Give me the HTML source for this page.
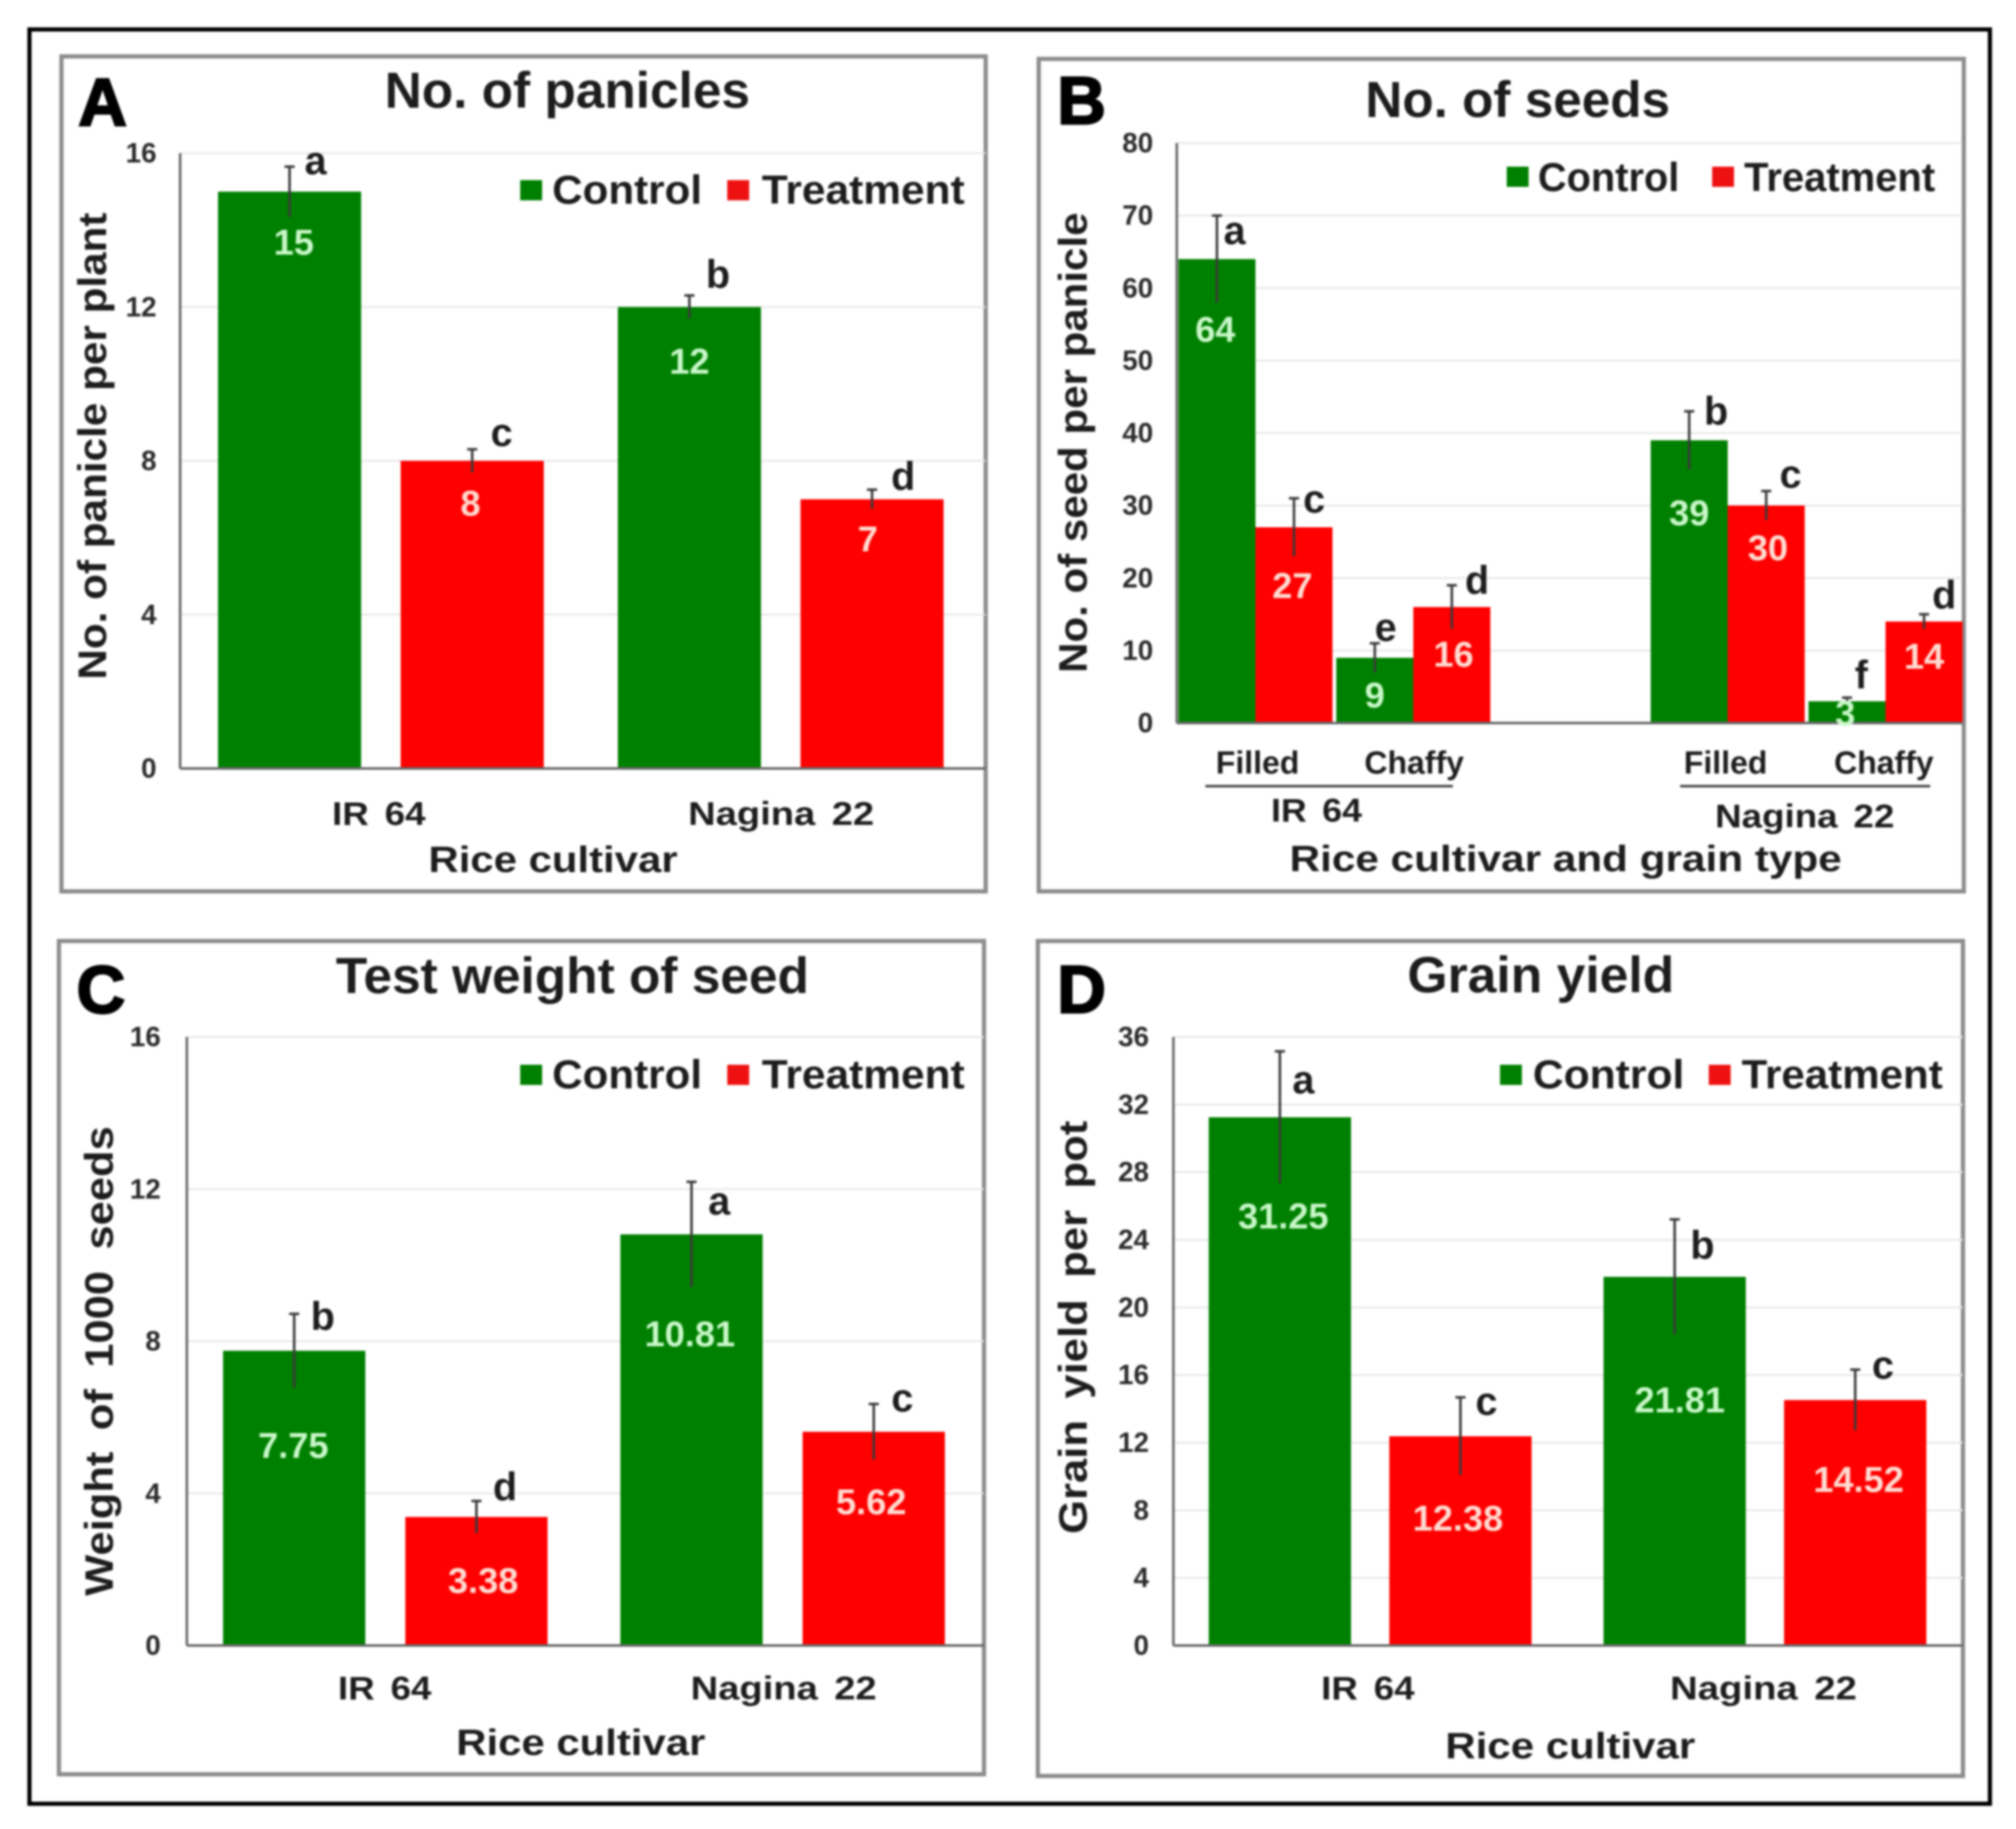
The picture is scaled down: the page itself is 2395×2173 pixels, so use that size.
<!DOCTYPE html>
<html lang="en">
<head>
<meta charset="utf-8">
<title>Rice cultivar yield panels</title>
<style>
html,body{margin:0;padding:0;background:#fff;}
svg{display:block;filter:blur(1.4px);font-family:"Liberation Sans",Arial,sans-serif;}
text{fill:#1c1c1c;font-weight:bold;}
.title{font-size:60px;}
.plabel{font-size:80px;stroke:#000;stroke-width:2.5px;fill:#000;}
.ytitle{font-size:47px;}
.xtitle{font-size:44px;}
.leg{font-size:48px;}
.cat{font-size:39px;word-spacing:6px;}
.sub{font-size:38px;}
.tick{font-size:33px;fill:#2a2a2a;}
.letter{font-size:47px;}
.val{font-size:43px;}
.frame{fill:none;stroke:#8c8c8c;stroke-width:5;}
</style>
</head>
<body>
<svg id="figure" xmlns="http://www.w3.org/2000/svg" width="2395" height="2173" viewBox="0 0 2395 2173">
  <rect x="0" y="0" width="2395" height="2173" fill="#fff"/>
  <rect x="35" y="35" width="2329" height="2108" fill="none" stroke="#000" stroke-width="5"/>

  <g id="panelA">
    <rect class="frame" x="73" y="67" width="1098" height="992"/>
    <text class="plabel" x="93" y="149">A</text>
    <text class="title" x="457" y="128" textLength="434" lengthAdjust="spacingAndGlyphs">No. of panicles</text>
    <text class="ytitle" transform="translate(126 530) rotate(-90)" text-anchor="middle" textLength="555" lengthAdjust="spacingAndGlyphs">No. of panicle per plant</text>
    <text class="xtitle" x="509" y="1036" textLength="296" lengthAdjust="spacingAndGlyphs">Rice cultivar</text>
  </g>

  <g id="panelB">
    <rect class="frame" x="1234" y="70" width="1099" height="989"/>
    <text class="plabel" x="1256" y="147">B</text>
    <text class="title" x="1622" y="139" textLength="362" lengthAdjust="spacingAndGlyphs">No. of seeds</text>
    <text class="ytitle" transform="translate(1291 526) rotate(-90)" text-anchor="middle" textLength="547" lengthAdjust="spacingAndGlyphs">No. of seed per panicle</text>
    <text class="xtitle" x="1532" y="1035" textLength="656" lengthAdjust="spacingAndGlyphs">Rice cultivar and grain type</text>
    <line x1="1432" y1="934" x2="1726" y2="934" stroke="#444" stroke-width="3"/>
    <line x1="1996" y1="934" x2="2293" y2="934" stroke="#444" stroke-width="3"/>
  </g>

  <g id="panelC">
    <rect class="frame" x="70" y="1118" width="1099" height="990"/>
    <text class="plabel" x="91" y="1203">C</text>
    <text class="title" x="399" y="1180" textLength="562" lengthAdjust="spacingAndGlyphs">Test weight of seed</text>
    <text class="ytitle" style="word-spacing:10px" transform="translate(134 1617) rotate(-90)" text-anchor="middle" textLength="558" lengthAdjust="spacingAndGlyphs">Weight of 1000 seeds</text>
    <text class="xtitle" x="542" y="2085" textLength="296" lengthAdjust="spacingAndGlyphs">Rice cultivar</text>
  </g>

  <g id="panelD">
    <rect class="frame" x="1233" y="1118" width="1099" height="992"/>
    <text class="plabel" x="1256" y="1203">D</text>
    <text class="title" x="1672" y="1179" textLength="317" lengthAdjust="spacingAndGlyphs">Grain yield</text>
    <text class="ytitle" style="word-spacing:10px" transform="translate(1291 1577) rotate(-90)" text-anchor="middle" textLength="491" lengthAdjust="spacingAndGlyphs">Grain yield per pot</text>
    <text class="xtitle" x="1717" y="2089" textLength="297" lengthAdjust="spacingAndGlyphs">Rice cultivar</text>
  </g>
</svg>

<script>
// ---------- Chart data ----------
const aCategories = ["IR 64", "Nagina 22"];
const aTicks = [0, 4, 8, 12, 16];
const aControl = [15, 12];
const aTreatment = [8, 7];
const aControlErr = [0.65, 0.3];
const aTreatmentErr = [0.3, 0.25];
const aControlLetters = ["a", "b"];
const aTreatmentLetters = ["c", "d"];

const bCategories = ["IR 64", "Nagina 22"];
const bGrainTypes = ["Filled", "Chaffy"];
const bTicks = [0, 10, 20, 30, 40, 50, 60, 70, 80];
const bControl = [64, 9, 39, 3];
const bTreatment = [27, 16, 30, 14];
const bControlErr = [6, 2, 4, 0.5];
const bTreatmentErr = [4, 3, 2, 1];
const bControlLetters = ["a", "e", "b", "f"];
const bTreatmentLetters = ["c", "d", "c", "d"];

const cCategories = ["IR 64", "Nagina 22"];
const cTicks = [0, 4, 8, 12, 16];
const cControl = [7.75, 10.81];
const cTreatment = [3.38, 5.62];
const cControlErr = [0.97, 1.38];
const cTreatmentErr = [0.42, 0.73];
const cControlLetters = ["b", "a"];
const cTreatmentLetters = ["d", "c"];

const dCategories = ["IR 64", "Nagina 22"];
const dTicks = [0, 4, 8, 12, 16, 20, 24, 28, 32, 36];
const dControl = [31.25, 21.81];
const dTreatment = [12.38, 14.52];
const dControlErr = [3.9, 3.4];
const dTreatmentErr = [2.3, 1.8];
const dControlLetters = ["a", "b"];
const dTreatmentLetters = ["c", "c"];

const seriesNames = ["Control", "Treatment"];

// ---------- Panel geometry (axis frames, not data) ----------
const aFrame = {id:"panelA", prefix:"panel-a", axisX:214, axisRight:1171, y0:913, yTop:182, barLeft:259, groupStep:475, subStep:0, subCount:1, seriesStep:217, barW:170, tickRight:186, decimals:0,
  catX:[450,928], catY:[980,980], catW:[111,221],
  letterNudge:[[31,-3],[35,-16],[34,-26],[37,-17]], valueNudge:[[5,60],[-2,50],[0,64],[-5,47]],
  legend:{a:618, at:656, aw:178, b:864, bt:905, bw:241, cy:226, base:242}};
const bFrame = {id:"panelB", prefix:"panel-b", axisX:1398, axisRight:2331, y0:859, yTop:170, barLeft:1400, groupStep:561, subStep:187.5, subCount:2, seriesStep:91.5, barW:91.5, tickRight:1370, decimals:0,
  catX:[1564,2144], catY:[976,983], catW:[108,213], subX:[1494,1680,2050,2238],
  letterNudge:[[21,22],[24,5],[13,-15],[30,-7],[32,-1],[29,-16],[17,-28],[24,-24]],
  valueNudge:[[-2,83],[-2,69],[0,44],[2,56],[0,86],[2,50],[-2,14],[0,41]],
  legend:{a:1790, at:1827, aw:168, b:2034, bt:2072, bw:227, cy:210, base:227}};
const cFrame = {id:"panelC", prefix:"panel-c", axisX:222, axisRight:1169, y0:1955, yTop:1232, barLeft:265, groupStep:472, subStep:0, subCount:1, seriesStep:216.5, barW:169, tickRight:191, decimals:2,
  catX:[457,931], catY:[2019,2019], catW:[111,221],
  letterNudge:[[34,2],[34,-18],[33,27],[34,-3]], valueNudge:[[-1,112],[8,75],[-2,118],[-3,83]],
  legend:{a:618, at:656, aw:178, b:864, bt:905, bw:241, cy:1277, base:1293}};
const dFrame = {id:"panelD", prefix:"panel-d", axisX:1394, axisRight:2332, y0:1955, yTop:1232, barLeft:1436, groupStep:469, subStep:0, subCount:1, seriesStep:214.5, barW:169, tickRight:1365, decimals:2,
  catX:[1625,2095], catY:[2019,2019], catW:[111,222],
  letterNudge:[[28,38],[31,9],[33,30],[33,-1]], valueNudge:[[4,117],[-3,97],[6,146],[4,94]],
  legend:{a:1782, at:1821, aw:180, b:2030, bt:2069, bw:239, cy:1277, base:1293}};

const SVGNS = "http://www.w3.org/2000/svg";
const seriesColors = ["#008000", "#ff0000"];
const valueColors = ["#c9f7c9", "#ffdcd2"];

function make(parent, tag, attrs, content) {
  const el = document.createElementNS(SVGNS, tag);
  for (const k in attrs) el.setAttribute(k, attrs[k]);
  if (content !== undefined) el.textContent = content;
  parent.appendChild(el);
  return el;
}

function drawPanel(frame, ticks, categories, control, treatment, controlErr, treatmentErr, controlLetters, treatmentLetters, subLabels) {
  const g = document.getElementById(frame.id);
  const yMax = ticks[ticks.length - 1];
  const yScale = v => frame.y0 - (v / yMax) * (frame.y0 - frame.yTop);
  const xScale = (cluster, series) => {
    const group = Math.floor(cluster / frame.subCount);
    const sub = cluster % frame.subCount;
    return frame.barLeft + group * frame.groupStep + sub * frame.subStep + series * frame.seriesStep;
  };

  ticks.forEach(t => {
    if (t > 0) {
      const grid = make(g, "line", {x1:frame.axisX, x2:frame.axisRight, y1:yScale(t), y2:yScale(t), stroke:"#e6e6e6", "stroke-width":2});
      
      
    }
    const label = make(g, "text", {class:"tick", x:frame.tickRight, y:yScale(t) + 11, "text-anchor":"end"}, String(t));
    
    
  });

  const yAxis = make(g, "line", {x1:frame.axisX, x2:frame.axisX, y1:frame.yTop, y2:frame.y0, stroke:"#666", "stroke-width":3});
  
  

  const seriesValues = [control, treatment];
  const seriesErrs = [controlErr, treatmentErr];
  const seriesLetters = [controlLetters, treatmentLetters];
  const overlay = [];
  control.forEach((_, c) => {
    [0, 1].forEach(s => {
      const v = seriesValues[s][c];
      const e = seriesErrs[s][c];
      const x = xScale(c, s);
      const top = yScale(v);
      const bar = make(g, "rect", {x:x, y:top, width:frame.barW, height:frame.y0 - top, fill:seriesColors[s]});
      
      
      overlay.push({c, s, v, e, cx:x + frame.barW / 2, top, letter:seriesLetters[s][c]});
    });
  });

  const xAxis = make(g, "line", {x1:frame.axisX, x2:frame.axisRight, y1:frame.y0, y2:frame.y0, stroke:"#666", "stroke-width":3});
  
  

  overlay.forEach((m, i) => {
    const errTop = yScale(m.v + m.e);
    const stem = make(g, "line", {x1:m.cx, x2:m.cx, y1:errTop, y2:yScale(m.v - m.e), stroke:"#3a3a3a", "stroke-width":3});
    
    
    const cap = make(g, "line", {x1:m.cx - 6, x2:m.cx + 6, y1:errTop, y2:errTop, stroke:"#3a3a3a", "stroke-width":3});
    
    

    const ln = frame.letterNudge[i];
    const halfGlyph = "bdf".indexOf(m.letter) >= 0 ? 17 : 12;
    const letter = make(g, "text", {class:"letter", x:m.cx + ln[0], y:errTop + ln[1] + halfGlyph, "text-anchor":"middle"}, m.letter);
    
    

    const vn = frame.valueNudge[i];
    const value = make(g, "text", {class:"val", x:m.cx + vn[0], y:m.top + vn[1] + 15, "text-anchor":"middle", style:"fill:" + valueColors[m.s]}, m.v.toFixed(frame.decimals));
    
    
  });

  categories.forEach((name, i) => {
    const cat = make(g, "text", {class:"cat", x:frame.catX[i], y:frame.catY[i], "text-anchor":"middle", textLength:frame.catW[i], lengthAdjust:"spacingAndGlyphs"}, name);
    
    
  });

  if (subLabels) {
    frame.subX.forEach((sx, i) => {
      const sub = make(g, "text", {class:"sub", x:sx, y:919, "text-anchor":"middle"}, subLabels[i % subLabels.length]);
      
      
    });
  }

  const L = frame.legend;
  const swatchA = make(g, "rect", {x:L.a, y:L.cy - 12, width:26, height:24, fill:seriesColors[0]});
  
  
  const textA = make(g, "text", {class:"leg", x:L.at, y:L.base, textLength:L.aw, lengthAdjust:"spacingAndGlyphs"}, seriesNames[0]);
  
  
  const swatchB = make(g, "rect", {x:L.b, y:L.cy - 12, width:26, height:24, fill:"#ee1111"});
  
  
  const textB = make(g, "text", {class:"leg", x:L.bt, y:L.base, textLength:L.bw, lengthAdjust:"spacingAndGlyphs"}, seriesNames[1]);
  
  
}

drawPanel(aFrame, aTicks, aCategories, aControl, aTreatment, aControlErr, aTreatmentErr, aControlLetters, aTreatmentLetters, null);
drawPanel(bFrame, bTicks, bCategories, bControl, bTreatment, bControlErr, bTreatmentErr, bControlLetters, bTreatmentLetters, bGrainTypes);
drawPanel(cFrame, cTicks, cCategories, cControl, cTreatment, cControlErr, cTreatmentErr, cControlLetters, cTreatmentLetters, null);
drawPanel(dFrame, dTicks, dCategories, dControl, dTreatment, dControlErr, dTreatmentErr, dControlLetters, dTreatmentLetters, null);
</script>
</body>
</html>
